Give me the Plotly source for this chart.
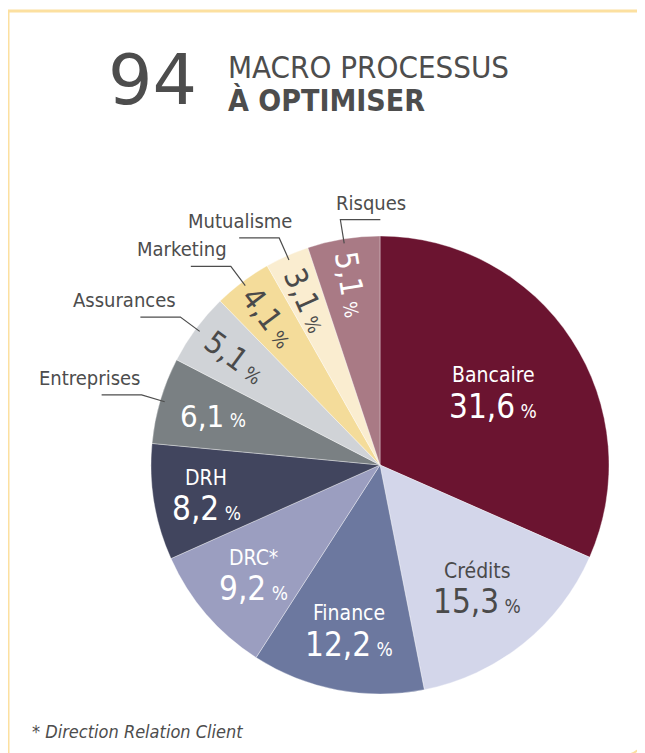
import math
import plotly.graph_objects as go

# ---------------- data ----------------
categories = ["Bancaire", "Crédits", "Finance", "DRC*", "DRH",
              "Entreprises", "Assurances", "Marketing", "Mutualisme", "Risques"]
values = [31.6, 15.3, 12.2, 9.2, 8.2, 6.1, 5.1, 4.1, 3.1, 5.1]
title_number = "94"
title_line1 = "MACRO PROCESSUS"
title_line2 = "À OPTIMISER"
footnote = "* Direction Relation Client"

# ---------------- styles ----------------
slice_colors = ["#6B1430", "#D3D6EA", "#6C789F", "#9B9EC0", "#41455E",
                "#7A8083", "#D0D3D7", "#F4DC9A", "#FAEDD0", "#A97A85"]
text_colors = ["white", "#4a4a4a", "white", "white", "white",
               "white", "#4a4a4a", "#4a4a4a", "#4a4a4a", "white"]
name_inside = [True, True, True, True, True, False, False, False, False, False]
label_r = [0.59, 0.68, 0.73, 0.73, 0.77, 0.76, 0.79, 0.81, 0.79, 0.80]
leader_side = {"Entreprises": -1, "Assurances": -1, "Marketing": -1,
               "Mutualisme": -1, "Risques": 1}
leader_text_shift = {"Entreprises": 3, "Mutualisme": 17, "Risques": -6}

W, H = 645, 753
OFF = 8  # page body margin
CX, CY, R = 380, 465, 229
FONT = "Liberation Sans Narrow, DejaVu Sans Condensed, Roboto, sans-serif"
GREY = "#4d4d4d"
BORDER = "#FCE0A0"


def P(px, py):
    return (px - OFF) / W, 1 - (py - OFF) / H


def fmt(v):
    return f"{v:.1f}".replace(".", ",")


dx0, dy0 = P(CX - R, CY + R)
dx1, dy1 = P(CX + R, CY - R)
fig = go.Figure(go.Pie(
    labels=categories, values=values, sort=False, direction="clockwise",
    rotation=0, textinfo="none", hoverinfo="skip", showlegend=False,
    marker=dict(colors=slice_colors, line=dict(color="rgba(255,255,255,0.45)", width=0.8)),
    domain=dict(x=[dx0, dx1], y=[dy0, dy1]),
))

annotations = []
shapes = []


def ann(px, py, text, size, color, family=FONT, xa="center", ya="middle", angle=0):
    x, y = P(px, py)
    annotations.append(dict(x=x, y=y, xref="paper", yref="paper", text=text, showarrow=False,
                            xanchor=xa, yanchor=ya, textangle=angle,
                            font=dict(family=family, size=size, color=color)))


total = sum(values)
cum = 0.0
for i, (cat, v) in enumerate(zip(categories, values)):
    a0 = cum / total * 360
    cum += v
    a1 = cum / total * 360
    mid = math.radians((a0 + a1) / 2)
    s, c = math.sin(mid), -math.cos(mid)
    lx, ly = CX + label_r[i] * R * s, CY + label_r[i] * R * c
    val_txt = f"{fmt(v)}<span style='font-size:19px'> %</span>"
    if name_inside[i]:
        ann(lx, ly - 16, cat, 21, text_colors[i])
        ann(lx, ly + 15, val_txt, 33, text_colors[i])
    else:
        ang = 0 if v >= 6 else math.degrees(mid) - 270
        ann(lx, ly, val_txt, 31, text_colors[i], angle=ang)
        # leader line
        ex, ey = CX + 0.98 * R * s, CY + 0.98 * R * c
        kx, ky = CX + 1.085 * R * s, CY + 1.085 * R * c
        side = leader_side[cat]
        hx = kx + side * 40 if side < 0 else kx + 40
        p = [P(ex, ey), P(kx, ky), P(hx, ky)]
        path = "M {:.5f} {:.5f} L {:.5f} {:.5f} L {:.5f} {:.5f}".format(*[t for pt in p for t in pt])
        shapes.append(dict(type="path", xref="paper", yref="paper", path=path,
                           line=dict(color=GREY, width=1.2)))
        tx = kx + (-2 if side < 0 else 0) + leader_text_shift.get(cat, 0)
        ann(tx, ky - 3, cat, 20, GREY, xa="right" if side < 0 else "left", ya="bottom")

# title
ann(199, 80, title_number, 70, GREY, family="DejaVu Sans, sans-serif", xa="right")
ann(226, 67, title_line1, 31, GREY, xa="left")
ann(226, 100, f"<b>{title_line2}</b>", 30, GREY, xa="left")
ann(30, 731, f"<i>{footnote}</i>", 18, GREY, xa="left")

# frame
for (x0, y0, x1, y1) in [(8, 11, W + 10, 11), (8, 11, 8, H + 10)]:
    a, b = P(x0, y0)
    c2, d = P(x1, y1)
    shapes.append(dict(type="line", xref="paper", yref="paper", x0=a, y0=b, x1=c2, y1=d,
                       line=dict(color=BORDER, width=3)))
q = [P(631, 754), P(640, 751), P(646, 740)]
shapes.append(dict(type="path", xref="paper", yref="paper",
                   path="M {:.5f} {:.5f} Q {:.5f} {:.5f} {:.5f} {:.5f}".format(*[t for pt in q for t in pt]),
                   line=dict(color=BORDER, width=2)))

fig.update_layout(width=W, height=H, margin=dict(l=0, r=0, t=0, b=0),
                  paper_bgcolor="white", plot_bgcolor="white",
                  annotations=annotations, shapes=shapes)
fig.write_html("out.html")
